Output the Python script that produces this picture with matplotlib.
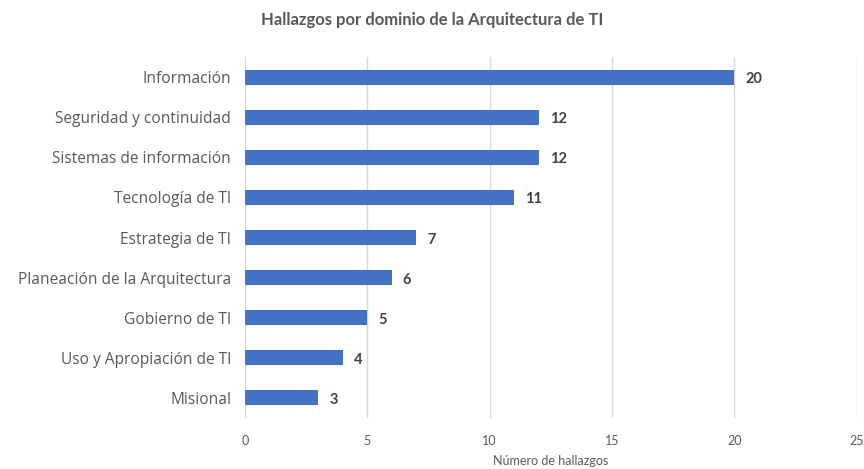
import matplotlib.pyplot as plt

plt.rcParams['font.family'] = ['Lato', 'DejaVu Sans']

dominios = ["Información", "Seguridad y continuidad", "Sistemas de información",
            "Tecnología de TI", "Estrategia de TI", "Planeación de la Arquitectura",
            "Gobierno de TI", "Uso y Apropiación de TI", "Misional"]
hallazgos = [20, 12, 12, 11, 7, 6, 5, 4, 3]
xticks = [0, 5, 10, 15, 20, 25]

fig = plt.figure(figsize=(8.64, 4.69), dpi=100)
ax = fig.add_axes([0.2836, 0.109, 0.708, 0.769])

pos = list(range(len(dominios)))[::-1]
ax.barh(pos, hallazgos, height=0.37, color="#4472C4", zorder=3)
for p, v in zip(pos, hallazgos):
    ax.text(v + 0.45, p - 0.05, str(v), va="center", ha="left", fontsize=10.5,
            fontweight="bold", color="#404040")

ax.set_xlim(0, 25)
ax.set_ylim(-0.5, len(dominios) - 0.5)
ax.set_xticks(xticks)
ax.set_yticks(pos)
ax.set_yticklabels(dominios, family=['Open Sans', 'DejaVu Sans'])
ax.grid(axis="x", color="#d9d9d9", linewidth=1, zorder=0)
for s in ax.spines.values():
    s.set_visible(False)
ax.tick_params(axis="both", length=0, colors="#595959")
ax.tick_params(axis="y", labelsize=11.2, pad=10)
ax.tick_params(axis="x", labelsize=9, pad=12)
ax.set_xlabel("Número de hallazgos", fontsize=9, color="#595959", labelpad=6)

fig.suptitle("Hallazgos por dominio de la Arquitectura de TI", x=0.5, y=0.975,
             fontsize=12, fontweight="bold", color="#595959")

fig.savefig("out.png", dpi=100)
